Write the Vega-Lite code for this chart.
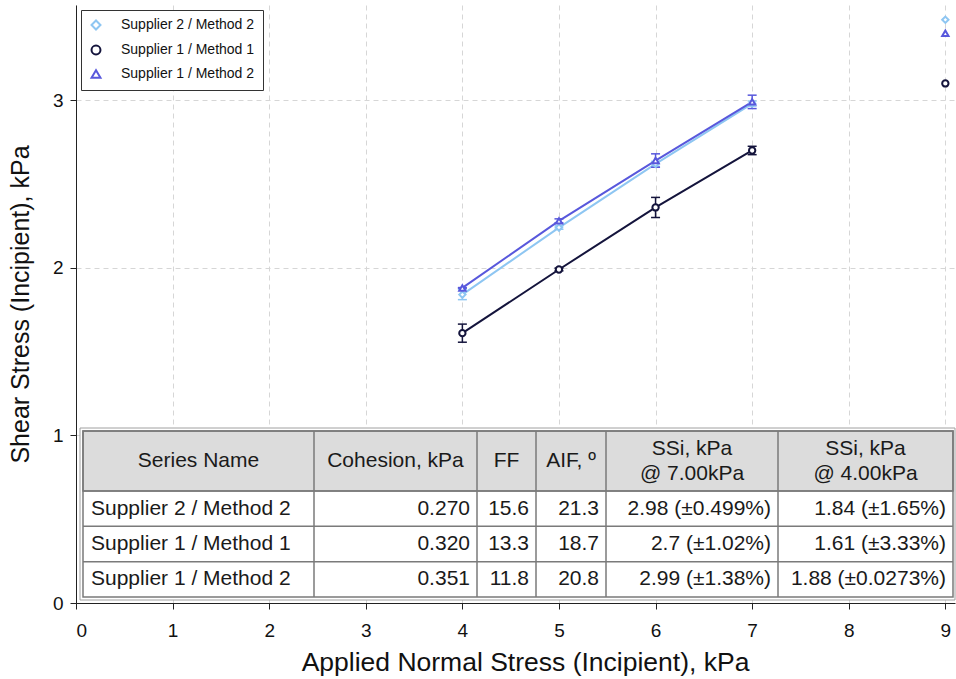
{
  "$schema": "https://vega.github.io/schema/vega-lite/v6.json",
  "autosize": "none",
  "width": 879,
  "height": 598,
  "padding": {"left": 76, "top": 5, "right": 1, "bottom": 76},
  "background": "white",
  "config": {"font": "Liberation Sans", "view": {"stroke": null}},
  "datasets": {
    "points": [
      {"series": "Supplier 2 / Method 2", "x": 4, "y": 1.84, "lo": 1.81, "hi": 1.87},
      {"series": "Supplier 2 / Method 2", "x": 5, "y": 2.24, "lo": 2.23, "hi": 2.25},
      {"series": "Supplier 2 / Method 2", "x": 6, "y": 2.62, "lo": 2.605, "hi": 2.635},
      {"series": "Supplier 2 / Method 2", "x": 7, "y": 2.98, "lo": 2.965, "hi": 2.995},
      {"series": "Supplier 1 / Method 1", "x": 4, "y": 1.61, "lo": 1.556, "hi": 1.664},
      {"series": "Supplier 1 / Method 1", "x": 5, "y": 1.99, "lo": 1.982, "hi": 1.998},
      {"series": "Supplier 1 / Method 1", "x": 6, "y": 2.36, "lo": 2.3, "hi": 2.42},
      {"series": "Supplier 1 / Method 1", "x": 7, "y": 2.7, "lo": 2.675, "hi": 2.725},
      {"series": "Supplier 1 / Method 2", "x": 4, "y": 1.88, "lo": 1.878, "hi": 1.882},
      {"series": "Supplier 1 / Method 2", "x": 5, "y": 2.28, "lo": 2.268, "hi": 2.292},
      {"series": "Supplier 1 / Method 2", "x": 6, "y": 2.64, "lo": 2.6, "hi": 2.68},
      {"series": "Supplier 1 / Method 2", "x": 7, "y": 2.99, "lo": 2.95, "hi": 3.03}
    ],
    "extra": [
      {"series": "Supplier 2 / Method 2", "x": 9, "y": 3.48},
      {"series": "Supplier 1 / Method 1", "x": 9, "y": 3.1},
      {"series": "Supplier 1 / Method 2", "x": 9, "y": 3.4}
    ],
    "table": [
      {"series": "Supplier 2 / Method 2", "cohesion": "0.270", "ff": "15.6", "aif": "21.3", "ssi7": "2.98 (±0.499%)", "ssi4": "1.84 (±1.65%)"},
      {"series": "Supplier 1 / Method 1", "cohesion": "0.320", "ff": "13.3", "aif": "18.7", "ssi7": "2.7 (±1.02%)", "ssi4": "1.61 (±3.33%)"},
      {"series": "Supplier 1 / Method 2", "cohesion": "0.351", "ff": "11.8", "aif": "20.8", "ssi7": "2.99 (±1.38%)", "ssi4": "1.88 (±0.0273%)"}
    ],
    "columns": [
      {"key": "series", "header": "Series Name", "col": 1},
      {"key": "cohesion", "header": "Cohesion, kPa", "col": 2},
      {"key": "ff", "header": "FF", "col": 3},
      {"key": "aif", "header": "AIF, º", "col": 4},
      {"key": "ssi7", "header": "SSi, kPa\n@ 7.00kPa", "col": 5},
      {"key": "ssi4", "header": "SSi, kPa\n@ 4.00kPa", "col": 6}
    ]
  },
  "layer": [
    {
      "data": {"name": "points"},
      "encoding": {
        "x": {
          "field": "x", "type": "quantitative",
          "scale": {"domain": [0, 9.1], "nice": false, "zero": false},
          "axis": {
            "values": [0, 1, 2, 3, 4, 5, 6, 7, 8, 9],
            "title": "Applied Normal Stress (Incipient), kPa",
            "grid": true, "gridDash": [5, 4], "gridColor": "#d6d6d6",
            "domainColor": "#222", "tickColor": "#222", "tickSize": 6,
            "labelFontSize": 19, "labelColor": "#111", "labelPadding": 12,
            "titleFontSize": 26.5, "titleFontWeight": "normal", "titleColor": "#111", "titlePadding": 9, "titleX": 449
          }
        },
        "y": {
          "field": "y", "type": "quantitative",
          "scale": {"domain": [0, 3.568], "nice": false},
          "axis": {
            "values": [0, 1, 2, 3],
            "title": "Shear Stress (Incipient), kPa",
            "grid": true, "gridDash": [5, 4], "gridColor": "#d6d6d6",
            "domainColor": "#222", "tickColor": "#222", "tickSize": 6,
            "labelFontSize": 19, "labelColor": "#111", "labelPadding": 7,
            "titleFontSize": 25, "titleFontWeight": "normal", "titleColor": "#111", "titlePadding": 19
          }
        },
        "color": {
          "field": "series", "type": "nominal",
          "scale": {
            "domain": ["Supplier 2 / Method 2", "Supplier 1 / Method 1", "Supplier 1 / Method 2"],
            "range": ["#8ec6f2", "#14143c", "#5858dc"]
          },
          "legend": {
            "title": null, "orient": "top-left", "offset": 5,
            "fillColor": "white", "strokeColor": "#333", "padding": 8,
            "labelFontSize": 14, "labelColor": "#111", "labelOffset": 18,
            "symbolStrokeWidth": 2, "symbolSize": 80, "rowPadding": 7
          }
        }
      },
      "layer": [
        {"mark": {"type": "line", "strokeWidth": 2}},
        {
          "mark": {"type": "rule", "strokeWidth": 1.5},
          "encoding": {
            "y": {"field": "lo", "type": "quantitative", "title": "Shear Stress (Incipient), kPa"},
            "y2": {"field": "hi"}
          }
        },
        {
          "mark": {"type": "rule", "strokeWidth": 1.5, "xOffset": -4.5, "x2Offset": 4.5},
          "encoding": {
            "x2": {"field": "x"},
            "y": {"field": "lo", "type": "quantitative", "title": "Shear Stress (Incipient), kPa"}
          }
        },
        {
          "mark": {"type": "rule", "strokeWidth": 1.5, "xOffset": -4.5, "x2Offset": 4.5},
          "encoding": {
            "x2": {"field": "x"},
            "y": {"field": "hi", "type": "quantitative", "title": "Shear Stress (Incipient), kPa"}
          }
        },
        {
          "mark": {"type": "point", "filled": false, "fill": "white", "opacity": 1, "strokeWidth": 2, "size": 40},
          "encoding": {
            "shape": {
              "field": "series", "type": "nominal",
              "scale": {
                "domain": ["Supplier 2 / Method 2", "Supplier 1 / Method 1", "Supplier 1 / Method 2"],
                "range": ["diamond", "circle", "triangle-up"]
              }
            }
          }
        },
        {
          "data": {"name": "extra"},
          "mark": {"type": "point", "filled": false, "fill": "white", "opacity": 1, "strokeWidth": 2, "size": 40},
          "encoding": {
            "shape": {
              "field": "series", "type": "nominal",
              "scale": {
                "domain": ["Supplier 2 / Method 2", "Supplier 1 / Method 1", "Supplier 1 / Method 2"],
                "range": ["diamond", "circle", "triangle-up"]
              }
            }
          }
        }
      ]
    },
    {
      "layer": [
        {
          "data": {"values": [{}]},
          "mark": {"type": "rect", "fill": "white", "stroke": "#a0a0a0", "strokeWidth": 1, "xOffset": -3, "x2Offset": 2, "yOffset": -3, "y2Offset": 3},
          "encoding": {
            "x": {"datum": 0, "type": "quantitative", "scale": {"domain": [0, 1, 2, 3, 4, 5, 6], "range": [7, 238, 401, 460, 530, 702, 877], "nice": false, "zero": false}, "axis": null},
            "x2": {"datum": 6},
            "y": {"datum": 0, "type": "quantitative", "scale": {"domain": [0, 1, 2, 3, 4], "range": [426, 486, 522, 557, 592], "nice": false, "zero": false}, "axis": null},
            "y2": {"datum": 4}
          }
        },
        {
          "data": {"values": [{}]},
          "mark": {"type": "rect", "fill": "#dcdcdc", "stroke": "#7a7a7a", "strokeWidth": 1.5},
          "encoding": {
            "x": {"datum": 0, "type": "quantitative", "axis": null},
            "x2": {"datum": 6},
            "y": {"datum": 0, "type": "quantitative", "axis": null},
            "y2": {"datum": 1}
          }
        },
        {
          "data": {"values": [{}]},
          "mark": {"type": "rect", "fill": null, "stroke": "#7a7a7a", "strokeWidth": 1.5},
          "encoding": {
            "x": {"datum": 0, "type": "quantitative", "axis": null},
            "x2": {"datum": 6},
            "y": {"datum": 0, "type": "quantitative", "axis": null},
            "y2": {"datum": 4}
          }
        },
        {
          "data": {"name": "columns"},
          "transform": [{"filter": "datum.col < 6"}],
          "mark": {"type": "rule", "stroke": "#7a7a7a", "strokeWidth": 1.5},
          "encoding": {
            "x": {"field": "col", "type": "quantitative", "axis": null},
            "y": {"datum": 0, "type": "quantitative", "axis": null},
            "y2": {"datum": 4}
          }
        }
      ]
    },
    {
      "data": {"name": "table"},
      "encoding": {
        "y": {
          "field": "series", "type": "nominal", "axis": null,
          "scale": {
            "domain": ["Supplier 2 / Method 2", "Supplier 1 / Method 1", "Supplier 1 / Method 2"],
            "range": [486, 592], "paddingInner": 0, "paddingOuter": 0
          }
        }
      },
      "layer": [
        {
          "mark": {"type": "rule", "stroke": "#7a7a7a", "strokeWidth": 1.5},
          "encoding": {
            "y": {"field": "series", "type": "nominal", "bandPosition": 0, "axis": null},
            "x": {"datum": 0, "type": "quantitative", "axis": null, "scale": {"domain": [0, 1, 2, 3, 4, 5, 6], "range": [7, 238, 401, 460, 530, 702, 877], "nice": false, "zero": false}},
            "x2": {"datum": 6}
          }
        },
        {
          "mark": {"type": "text", "align": "left", "baseline": "middle", "dx": 8, "fontSize": 21, "fill": "#1a1a1a"},
          "encoding": {
            "x": {"datum": 0, "type": "quantitative", "axis": null},
            "text": {"field": "series"}
          }
        },
        {
          "transform": [
            {"fold": ["cohesion", "ff", "aif", "ssi7", "ssi4"], "as": ["key", "value"]},
            {"lookup": "key", "from": {"data": {"name": "columns"}, "key": "key", "fields": ["col"]}}
          ],
          "mark": {"type": "text", "align": "right", "baseline": "middle", "dx": -7, "fontSize": 21, "fill": "#1a1a1a"},
          "encoding": {
            "x": {"field": "col", "type": "quantitative", "axis": null},
            "text": {"field": "value"}
          }
        }
      ]
    },
    {
      "data": {"name": "columns"},
      "encoding": {
        "x": {"field": "col", "type": "quantitative", "axis": null, "scale": {"domain": [0.5, 1.5, 2.5, 3.5, 4.5, 5.5, 6.5], "range": [7, 238, 401, 460, 530, 702, 877], "nice": false, "zero": false}},
        "y": {"datum": 0.5, "type": "quantitative", "axis": null, "scale": {"domain": [0, 1, 2, 3, 4], "range": [426, 486, 522, 557, 592], "nice": false, "zero": false}},
        "text": {"field": "header"}
      },
      "layer": [
        {
          "transform": [{"filter": "indexof(datum.header, '\\n') < 0"}],
          "mark": {"type": "text", "align": "center", "baseline": "middle", "fontSize": 21, "fill": "#1a1a1a"}
        },
        {
          "transform": [{"filter": "indexof(datum.header, '\\n') >= 0"}],
          "mark": {"type": "text", "align": "center", "baseline": "middle", "dy": -12.5, "fontSize": 21, "lineHeight": 25, "lineBreak": "\n", "fill": "#1a1a1a"}
        }
      ]
    }
  ],
  "resolve": {"scale": {"x": "independent", "y": "independent"}}
}
